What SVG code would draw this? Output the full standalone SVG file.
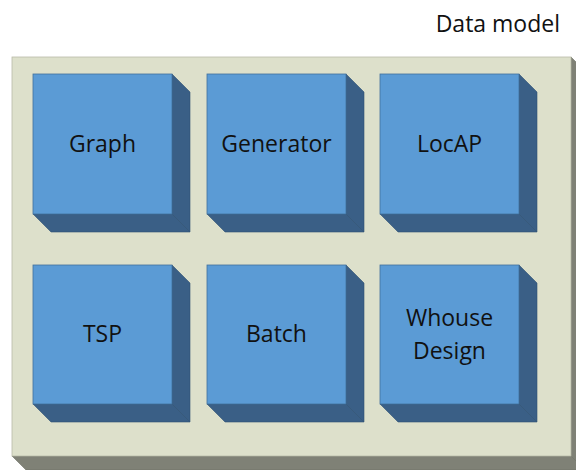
<svg xmlns="http://www.w3.org/2000/svg" width="576" height="470" viewBox="0 0 576 470">
<style>
.front{fill:#5b9bd5;stroke:#41719c;stroke-width:0.8}
.side{fill:#3a5f86;stroke:#2f5273;stroke-width:0.6}
.pfront{fill:#dde0cb;stroke:#b9bba8;stroke-width:0.8}
.pside{fill:#7f8176;stroke:#6d6f65;stroke-width:0.6}
.lbl{font-family:"Open Sans","Liberation Sans",sans-serif;font-size:23px;fill:#111;text-anchor:middle}
</style>
<rect width="576" height="470" fill="#ffffff"/>
<text x="560" y="32" class="lbl" style="text-anchor:end">Data model</text>
<g id="panel">
<polygon class="pside" points="571,57 585,71 585,470 571,456"/>
<polygon class="pside" points="12,456 571,456 585,470 26,470"/>
<rect class="pfront" x="12" y="57" width="559" height="399"/>
</g>
<g id="graph">
<polygon class="side" points="172,74 190,92 190,232 172,214"/>
<polygon class="side" points="33,214 172,214 190,232 51,232"/>
<rect class="front" x="33" y="74" width="139" height="140"/>
<text class="lbl" x="102.5" y="152">Graph</text>
</g>
<g id="generator">
<polygon class="side" points="346,74 364,92 364,232 346,214"/>
<polygon class="side" points="207,214 346,214 364,232 225,232"/>
<rect class="front" x="207" y="74" width="139" height="140"/>
<text class="lbl" x="276.5" y="152">Generator</text>
</g>
<g id="locap">
<polygon class="side" points="519,74 537,92 537,232 519,214"/>
<polygon class="side" points="380,214 519,214 537,232 398,232"/>
<rect class="front" x="380" y="74" width="139" height="140"/>
<text class="lbl" x="449.5" y="152">LocAP</text>
</g>
<g id="tsp">
<polygon class="side" points="172,265 190,283 190,422 172,404"/>
<polygon class="side" points="33,404 172,404 190,422 51,422"/>
<rect class="front" x="33" y="265" width="139" height="139"/>
<text class="lbl" x="102.5" y="342">TSP</text>
</g>
<g id="batch">
<polygon class="side" points="346,265 364,283 364,422 346,404"/>
<polygon class="side" points="207,404 346,404 364,422 225,422"/>
<rect class="front" x="207" y="265" width="139" height="139"/>
<text class="lbl" x="276.5" y="342">Batch</text>
</g>
<g id="whouse">
<polygon class="side" points="519,265 537,283 537,422 519,404"/>
<polygon class="side" points="380,404 519,404 537,422 398,422"/>
<rect class="front" x="380" y="265" width="139" height="139"/>
<text class="lbl" x="449.5" y="326">Whouse</text>
<text class="lbl" x="449.5" y="359">Design</text>
</g>
<g id="connectors"></g>
</svg>
